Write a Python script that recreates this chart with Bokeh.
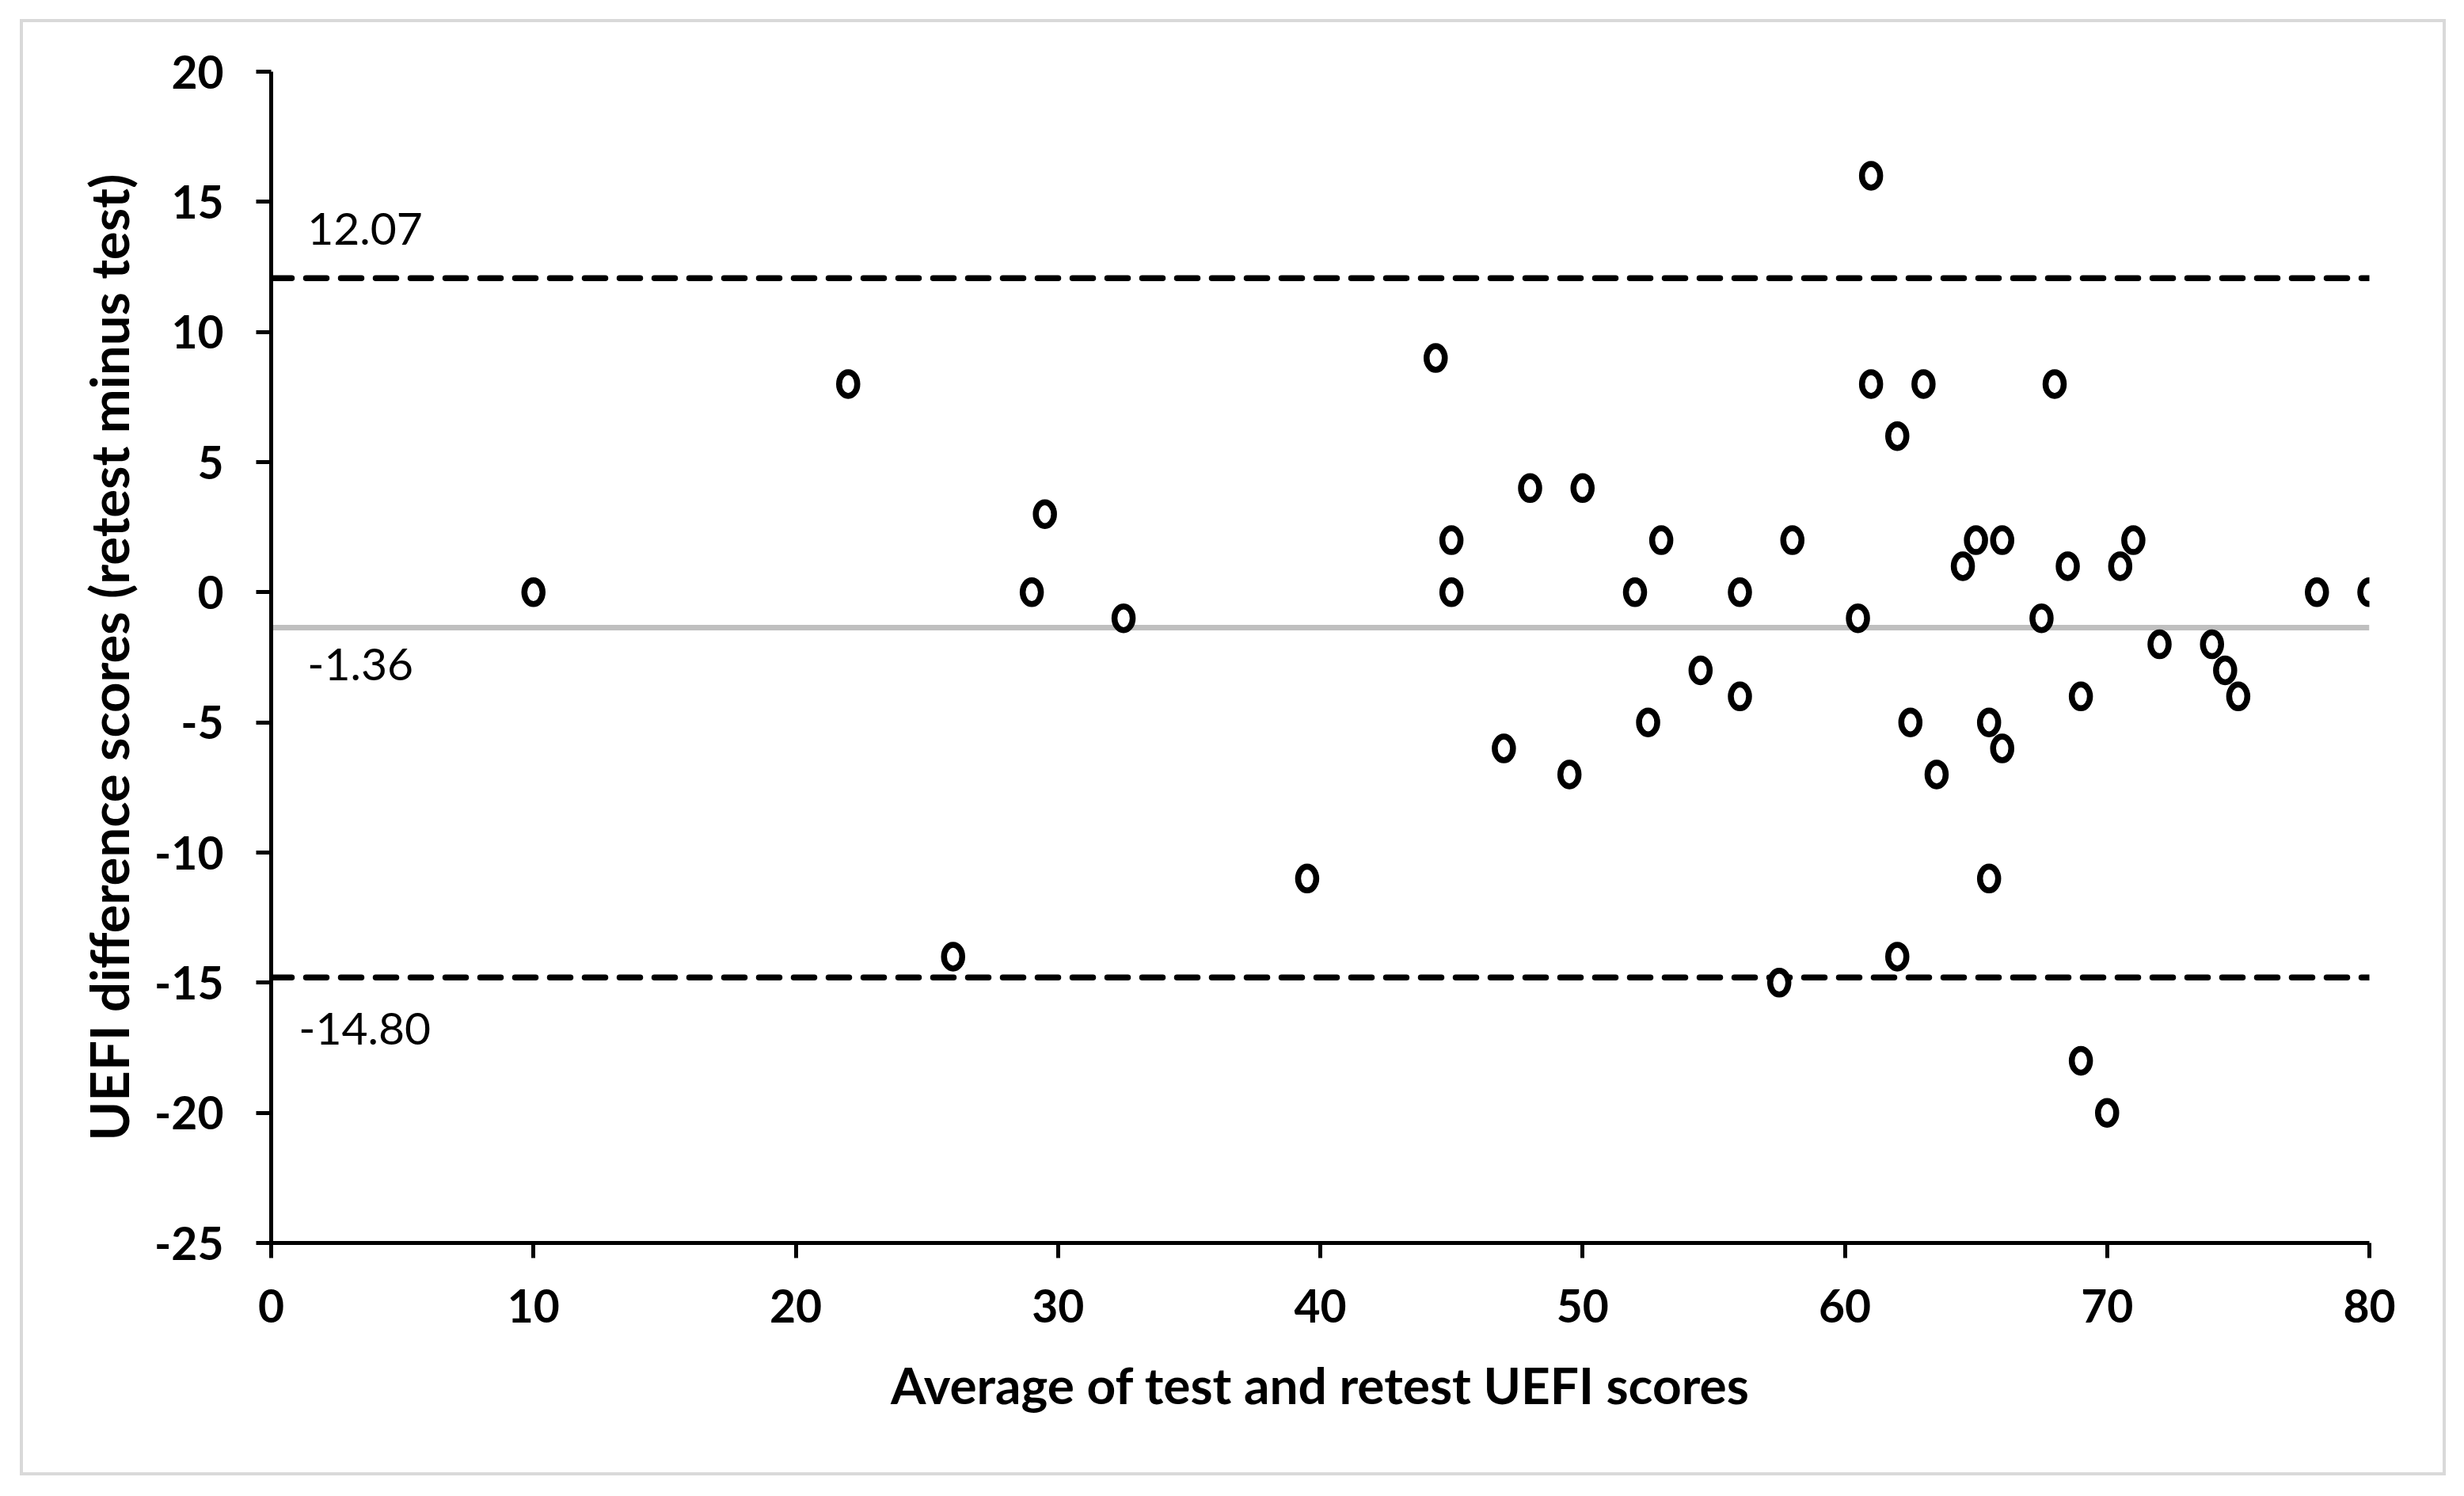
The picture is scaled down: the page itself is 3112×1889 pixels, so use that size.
from bokeh.plotting import figure
from bokeh.models import (Range1d, Label, FixedTicker, ColumnDataSource,
                          CustomJSTickFormatter, InlineStyleSheet)
from bokeh.embed import file_html
from bokeh.resources import INLINE

# ---- data ----
avg_scores = [10, 22, 26, 29, 29.5, 32.5, 39.5, 44.4, 45, 45,
              47, 48, 49.5, 50, 52, 52.5, 53, 54.5, 56, 56,
              57.5, 58, 60.5, 61, 61, 62, 62, 62.5, 63, 63.5,
              64.5, 65, 65.5, 65.5, 66, 66, 67.5, 68, 68.5, 69,
              69, 70, 70.5, 71, 72, 74, 74.5, 75, 78, 80]
diff_scores = [0, 8, -14, 0, 3, -1, -11, 9, 2, 0,
               -6, 4, -7, 4, 0, -5, 2, -3, 0, -4,
               -15, 2, -1, 16, 8, 6, -14, -5, 8, -7,
               1, 2, -5, -11, 2, -6, -1, 8, 1, -4,
               -18, -20, 1, 2, -2, -2, -3, -4, 0, 0]
limit_values = [12.07, -1.36, -14.80]
limit_labels = ["12.07", "-1.36", "-14.80"]
x_ticks = [0, 10, 20, 30, 40, 50, 60, 70, 80]
y_ticks = [20, 15, 10, 5, 0, -5, -10, -15, -20, -25]
x_title = "Average of test and retest UEFI scores"
y_title = "UEFI difference scores (retest minus test)"

FONT = "Lato"

p = figure(width=3096, height=1873,
           x_range=Range1d(0, 80), y_range=Range1d(-25, 20),
           output_backend="svg", toolbar_location=None,
           min_border_left=342, min_border_right=104,
           min_border_top=90, min_border_bottom=304,
           background_fill_color="white", border_fill_color="white")
p.stylesheets = [InlineStyleSheet(css="""
:host { position: relative; }
:host::after {
  content: ""; position: absolute; z-index: 1000; pointer-events: none;
  left: 25px; top: 24px; right: 7px; bottom: 10px;
  border: 4px solid #d9d9d9; box-sizing: border-box;
}
""")]
p.outline_line_color = None
p.grid.visible = False

for ax in (p.xaxis[0], p.yaxis[0]):
    ax.axis_line_width = 5
    ax.axis_line_color = "black"
    ax.major_tick_line_width = 5
    ax.major_tick_line_color = "black"
    ax.major_tick_out = 19
    ax.major_tick_in = 0
    ax.minor_tick_out = 0
    ax.minor_tick_in = 0
    ax.major_label_text_font = FONT
    ax.major_label_text_font_style = "bold"
    ax.major_label_text_font_size = "57px"
    ax.major_label_text_color = "black"
    ax.axis_label_text_font = FONT
    ax.axis_label_text_font_style = "bold"
    ax.axis_label_text_color = "black"
    ax.formatter = CustomJSTickFormatter(code="return tick.toString();")

p.xaxis.axis_label_text_font_size = "64px"
p.yaxis.axis_label_text_font_size = "67px"
p.xaxis.ticker = FixedTicker(ticks=x_ticks)
p.yaxis.ticker = FixedTicker(ticks=y_ticks)
p.xaxis.axis_label = x_title
p.yaxis.axis_label = y_title
p.xaxis.major_label_standoff = 39
p.yaxis.major_label_standoff = 41
p.xaxis.axis_label_standoff = 37
p.yaxis.axis_label_standoff = 15

# limits of agreement and mean difference
styles = [dict(line_color="black", line_width=7.5, line_dash="26 18", line_cap="round"),
          dict(line_color="#bfbfbf", line_width=7),
          dict(line_color="black", line_width=7.5, line_dash="26 18", line_cap="round")]
label_offsets = [(1.38, 42), (1.38, -66), (1.05, -85)]
for val, txt, st, (lx, off) in zip(limit_values, limit_labels, styles, label_offsets):
    p.line(x=[0, 80], y=[val, val], **st)
    p.add_layout(Label(x=lx, y=val, y_offset=off, text=txt,
                       text_font=FONT, text_font_size="57px",
                       text_color="black", text_baseline="bottom"))

src = ColumnDataSource(dict(x=avg_scores, y=diff_scores))
p.ellipse(x="x", y="y", width=23, height=30, width_units="screen",
          height_units="screen", source=src, fill_color="white",
          line_color="black", line_width=7.5)

open("out.html", "w").write(file_html(p, INLINE))
